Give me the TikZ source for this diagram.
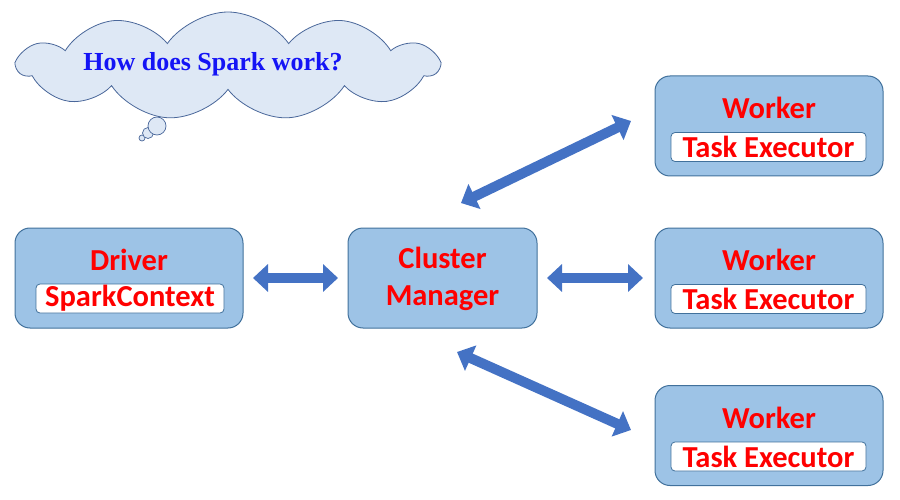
\documentclass[tikz,border=0pt]{standalone}
\usepackage{fontspec}
\setmainfont{Liberation Serif}
\newfontfamily\calfont{Carlito}
\usetikzlibrary{arrows.meta,shapes.symbols}
\definecolor{boxfill}{HTML}{9DC3E6}
\definecolor{boxline}{HTML}{41719C}
\definecolor{arrowblue}{HTML}{4472C4}
\definecolor{cloudfill}{HTML}{DEE8F5}
\definecolor{cloudline}{HTML}{4A679A}
\definecolor{txtred}{HTML}{FF0000}
\definecolor{txtblue}{HTML}{1414F5}
\tikzset{
  bigbox/.style={draw=boxline, fill=boxfill, line width=1pt, rounded corners=15pt, minimum width=228pt, minimum height=100pt, inner sep=0pt},
  innerbox/.style={draw=boxline, fill=white, line width=0.8pt, rounded corners=4pt, inner sep=0pt, font=\calfont\bfseries\fontsize{30.5}{34}\selectfont, text=txtred},
  boxtitle/.style={font=\calfont\bfseries\fontsize{30.5}{34}\selectfont, text=txtred, inner sep=0pt},
  fatarrow/.style={draw=arrowblue!80!black, line width=10pt, arrowblue, {Triangle[length=15pt,width=27pt]}-{Triangle[length=15pt,width=27pt]}},
  bubble/.style={draw=cloudline, fill=cloudfill, line width=0.7pt}
}
\begin{document}
\begin{tikzpicture}[x=1pt,y=-1pt]
\useasboundingbox (0,0) rectangle (900,500);
% thought bubbles
\draw[bubble] (142,138) circle (3);
\draw[bubble] (148,133) circle (5.5);
\draw[bubble] (157,126) circle (9);
% cloud
\node[cloud, cloud puffs=11, cloud puff arc=110, aspect=3.8, draw=cloudline, fill=cloudfill, line width=0.8pt, minimum width=420pt, minimum height=108pt, inner sep=0pt] (cloud) at (228,66) {};
\node[font=\bfseries\fontsize{26}{29}\selectfont, text=txtblue, inner sep=0pt] (q) at (213,64) {How does Spark work?};
% Driver
\node[bigbox] (driver) at (129,278) {};
\node[boxtitle] (drivert) at (129,260) {Driver};
\node[innerbox, minimum width=188pt, minimum height=29pt] (sc) at (130,298.5) {SparkContext};
% Cluster manager
\node[bigbox, minimum width=189pt] (cm) at (442.5,278) {};
\node[boxtitle, align=center] (cmt) at (442.5,279) {Cluster\\[3pt]Manager};
% Workers
\foreach \n/\y in {1/126, 2/278, 3/435.5}{
  \node[bigbox] (w\n) at (769,\y) {};
  \node[boxtitle] (w\n t) at (769,\y-18) {Worker};
  \node[innerbox, minimum width=195pt, minimum height=29pt] (te\n) at (768.5,\y+21) {Task Executor};
}
% arrows
\coordinate (a1) at (253,278);
\coordinate (a2) at (338,278);
\coordinate (b1) at (547,278);
\coordinate (b2) at (643,278);
\coordinate (c1) at (461,203);
\coordinate (c2) at (631,121);
\coordinate (d1) at (457,352);
\coordinate (d2) at (631,430);
\draw[fatarrow] (a1) -- (a2);
\draw[fatarrow] (b1) -- (b2);
\draw[fatarrow] (c1) -- (c2);
\draw[fatarrow] (d1) -- (d2);
\end{tikzpicture}
\end{document}
